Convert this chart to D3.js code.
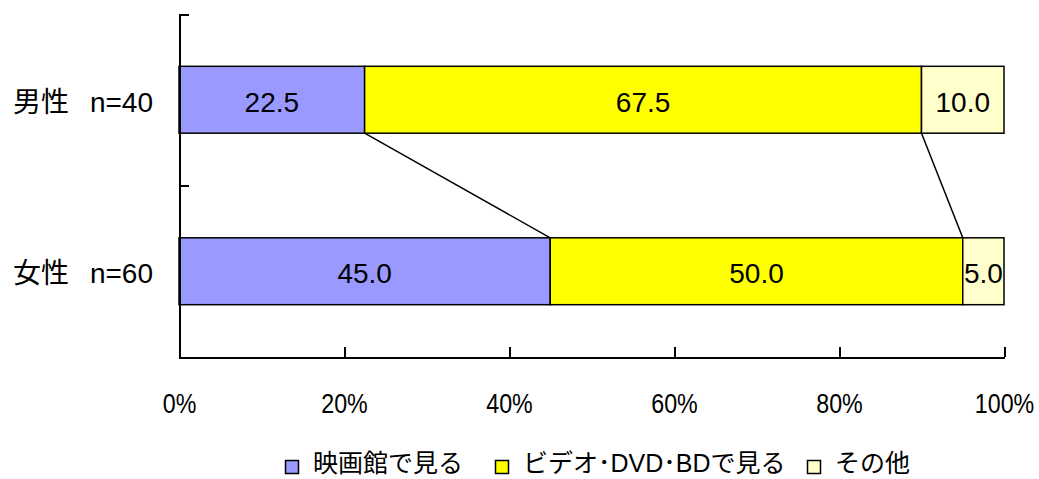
<!DOCTYPE html>
<html>
<head>
<meta charset="utf-8">
<script src="https://cdn.jsdelivr.net/npm/d3@7/dist/d3.min.js"></script>
<style>
  html, body { margin: 0; padding: 0; background: #fff; }
  svg { display: block; font-family: "Liberation Sans", Arial, "Noto Sans CJK JP", sans-serif; }
</style>
</head>
<body>
<svg id="chart" width="1039" height="479"></svg>
<script>
// Viewing method by gender (percent of respondents)
const categories = ["男性", "女性"];
const sampleSizes = ["n=40", "n=60"];
const seriesNames = ["映画館で見る", "ビデオ･DVD･BDで見る", "その他"];
const cinemaValues = [22.5, 45.0];
const videoValues = [67.5, 50.0];
const otherValues = [10.0, 5.0];
const xTickValues = [0, 20, 40, 60, 80, 100];

const seriesValues = [cinemaValues, videoValues, otherValues];
const seriesColors = ["#9999FF", "#FFFF00", "#FFFFCC"];

const svg = d3.select("#chart");
const plot = { left: 179, right: 1004, top: 14, bottom: 357 };

const x = d3.scaleLinear().domain([0, 100]).range([plot.left, plot.right]);
const y = d3.scaleBand().domain(categories).range([plot.top, plot.bottom])
  .paddingInner(0.61).paddingOuter(0.305);
const yEdges = d3.scaleLinear().domain([0, categories.length]).range([plot.top, plot.bottom]);

// stacked segments per category
const rows = categories.map((cat, i) => {
  let acc = 0;
  return seriesValues.map((vals, s) => {
    const seg = { cat, s, value: vals[i], x0: acc, x1: acc + vals[i] };
    acc += vals[i];
    return seg;
  });
});

// connector lines between segment boundaries of adjacent bars
const connectors = [];
for (let i = 0; i < rows.length - 1; i++) {
  for (let s = 0; s < seriesValues.length - 1; s++) {
    connectors.push({ a: rows[i][s].x1, b: rows[i + 1][s].x1, ca: categories[i], cb: categories[i + 1] });
  }
}
svg.append("g").selectAll("line").data(connectors).join("line")
  .attr("x1", d => x(d.a)).attr("y1", d => y(d.ca) + y.bandwidth())
  .attr("x2", d => x(d.b)).attr("y2", d => y(d.cb))
  .attr("stroke", "#000").attr("stroke-width", 1.5);

// bars
const segs = rows.flat();
svg.append("g").selectAll("rect").data(segs).join("rect")
  .attr("x", d => x(d.x0)).attr("width", d => x(d.x1) - x(d.x0))
  .attr("y", d => y(d.cat)).attr("height", y.bandwidth())
  .attr("fill", d => seriesColors[d.s])
  .attr("stroke", "#000").attr("stroke-width", 1.5);

// value labels
svg.append("g").selectAll("text").data(segs).join("text")
  .attr("x", d => x((d.x0 + d.x1) / 2))
  .attr("y", d => y(d.cat) + y.bandwidth() / 2 + 12)
  .attr("text-anchor", "middle")
  .attr("font-size", 28)
  .attr("fill", "#000")
  .text(d => d.value.toFixed(1));

// y axis with ticks at band edges, pointing inward
const yAxis = svg.append("g").attr("transform", `translate(${plot.left},0)`)
  .call(d3.axisLeft(yEdges).tickValues([0, 1, 2]).tickFormat("").tickSizeInner(-10).tickSizeOuter(0));
yAxis.selectAll("path, line").attr("stroke", "#000").attr("stroke-width", 2).attr("shape-rendering", "crispEdges");

// x axis with upward ticks
const xAxis = svg.append("g").attr("transform", `translate(0,${plot.bottom})`)
  .call(d3.axisBottom(x).tickValues(xTickValues).tickFormat(d => d + "%").tickSizeInner(-10).tickSizeOuter(0));
xAxis.selectAll("path, line").attr("stroke", "#000").attr("stroke-width", 2).attr("shape-rendering", "crispEdges");
xAxis.selectAll("text")
  .attr("y", 56).attr("dy", 0)
  .attr("font-size", 28).attr("fill", "#000")
  .attr("font-family", "'Liberation Sans', Arial, sans-serif")
  .attr("transform", "scale(0.83,1)");

// category labels
const catLabels = svg.append("g");
categories.forEach((cat, i) => {
  const by = y(cat) + y.bandwidth() / 2 + 12;
  catLabels.append("text").attr("x", plot.left - 110).attr("y", by)
    .attr("text-anchor", "end").attr("font-size", 28).text(cat);
  catLabels.append("text").attr("x", plot.left - 26).attr("y", by)
    .attr("text-anchor", "end").attr("font-size", 28).text(sampleSizes[i]);
});

// legend
const legendX = [285, 495, 807];
const legend = svg.append("g").attr("transform", "translate(0,460)");
seriesNames.forEach((name, s) => {
  const g = legend.append("g").attr("transform", `translate(${legendX[s]},0)`);
  g.append("rect").attr("x", 0.5).attr("y", 0.5).attr("width", 13).attr("height", 13)
    .attr("fill", seriesColors[s]).attr("stroke", "#000").attr("stroke-width", 1.5);
  g.append("text").attr("x", 28).attr("y", 12)
    .attr("font-size", 25).attr("fill", "#000").text(name);
});
</script>
</body>
</html>
